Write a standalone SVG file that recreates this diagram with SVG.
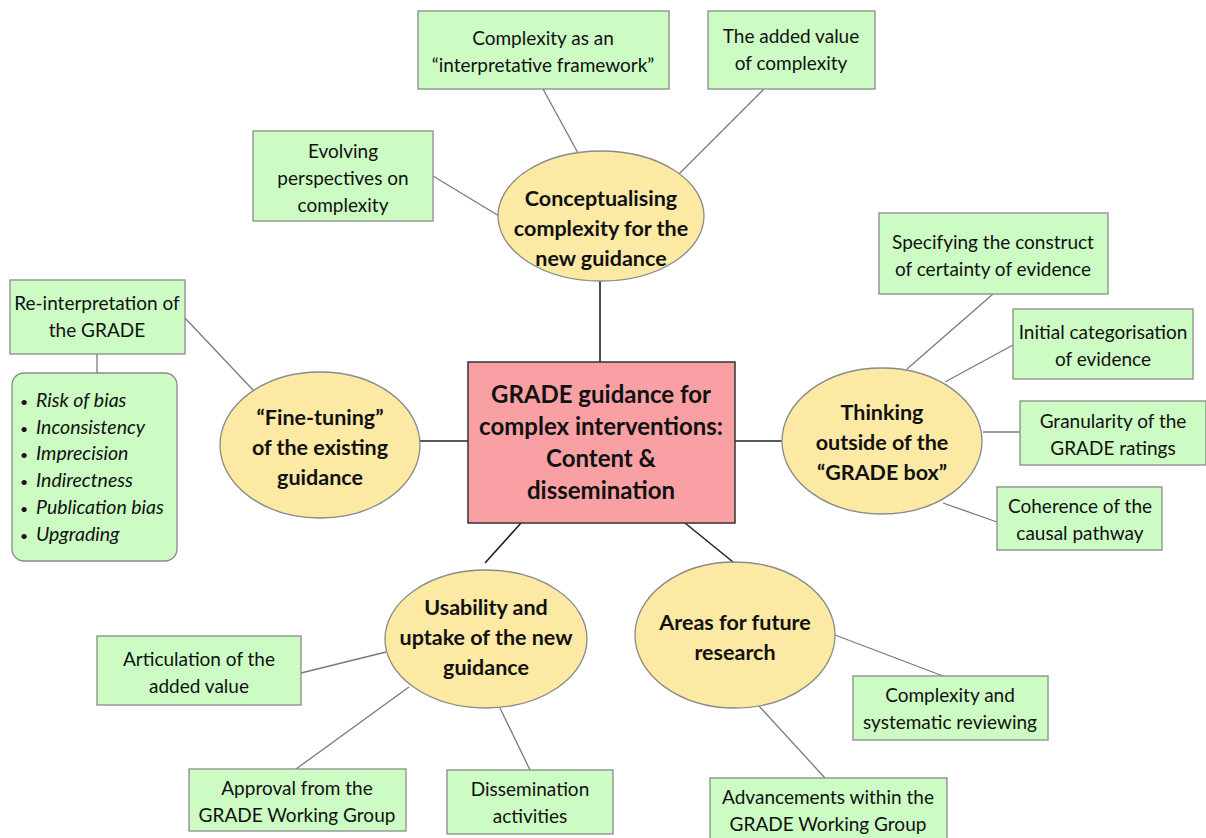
<svg xmlns="http://www.w3.org/2000/svg" width="1206" height="838" viewBox="0 0 1206 838">
  <style>
    .leaf { fill: #ccfcc4; stroke: #8a8a8a; stroke-width: 1.3; }
    .theme { fill: #fce9a4; stroke: #8a8a8a; stroke-width: 1.3; }
    .core { fill: #f9a0a4; stroke: #333; stroke-width: 1.5; }
    .link { stroke: #7a7a7a; stroke-width: 1.3; fill: none; }
    .hub { stroke: #222; stroke-width: 1.6; fill: none; }
    text { font-family: Lato, "Liberation Sans", sans-serif; fill: #111; }
    .t { font-size: 19px; text-anchor: middle; }
    .b { font-size: 21.5px; font-weight: bold; text-anchor: middle; }
    .c { font-size: 24px; font-weight: bold; text-anchor: middle; }
    .i { font-size: 19.5px; font-style: italic; }
    .dot { font-size: 14px; font-style: normal; }
  </style>

  <g id="connectors">
    <line class="hub" x1="600" y1="362" x2="600" y2="281"/>
    <line class="hub" x1="468" y1="441" x2="420" y2="441"/>
    <line class="hub" x1="735" y1="441" x2="782" y2="441"/>
    <line class="hub" x1="521" y1="523" x2="485" y2="563"/>
    <line class="hub" x1="685" y1="523" x2="733" y2="562"/>
    <line class="link" x1="578" y1="153" x2="543" y2="89"/>
    <line class="link" x1="678" y1="175" x2="764" y2="89"/>
    <line class="link" x1="433" y1="176" x2="499" y2="216"/>
    <line class="link" x1="185" y1="318" x2="253" y2="390"/>
    <line class="link" x1="97" y1="354" x2="97" y2="373"/>
    <line class="link" x1="907" y1="369" x2="993" y2="294"/>
    <line class="link" x1="945" y1="382" x2="1013" y2="345"/>
    <line class="link" x1="983" y1="432" x2="1020" y2="432"/>
    <line class="link" x1="943" y1="503" x2="997" y2="522"/>
    <line class="link" x1="386" y1="652" x2="301" y2="673"/>
    <line class="link" x1="409" y1="687" x2="296" y2="769"/>
    <line class="link" x1="500" y1="708" x2="530" y2="770"/>
    <line class="link" x1="835" y1="635" x2="943" y2="676"/>
    <line class="link" x1="759" y1="706" x2="825" y2="778"/>
  </g>

  <g id="core">
    <rect class="core" x="468" y="362" width="267" height="161"/>
    <text class="c" x="601" y="403">GRADE guidance for</text>
    <text class="c" x="601" y="435">complex interventions:</text>
    <text class="c" x="601" y="467">Content &amp;</text>
    <text class="c" x="601" y="499">dissemination</text>
  </g>

  <g id="theme-conceptualising">
    <ellipse class="theme" cx="601" cy="216" rx="103" ry="65"/>
    <text class="b" x="601" y="206">Conceptualising</text>
    <text class="b" x="601" y="236">complexity for the</text>
    <text class="b" x="601" y="266">new guidance</text>
  </g>

  <g id="theme-finetuning">
    <ellipse class="theme" cx="320" cy="445" rx="100" ry="73"/>
    <text class="b" x="320" y="425">“Fine-tuning”</text>
    <text class="b" x="320" y="455">of the existing</text>
    <text class="b" x="320" y="485">guidance</text>
  </g>

  <g id="theme-thinking">
    <ellipse class="theme" cx="882" cy="441" rx="100" ry="73"/>
    <text class="b" x="882" y="420">Thinking</text>
    <text class="b" x="882" y="450">outside of the</text>
    <text class="b" x="882" y="480">“GRADE box”</text>
  </g>

  <g id="theme-usability">
    <ellipse class="theme" cx="486" cy="639" rx="101" ry="69"/>
    <text class="b" x="486" y="615">Usability and</text>
    <text class="b" x="486" y="645">uptake of the new</text>
    <text class="b" x="486" y="675">guidance</text>
  </g>

  <g id="theme-research">
    <ellipse class="theme" cx="735" cy="635" rx="100" ry="73"/>
    <text class="b" x="735" y="630">Areas for future</text>
    <text class="b" x="735" y="660">research</text>
  </g>

  <g id="leaf-framework">
    <rect class="leaf" x="418" y="11" width="251" height="78"/>
    <text class="t" x="543" y="45">Complexity as an</text>
    <text class="t" x="543" y="72">“interpretative framework”</text>
  </g>

  <g id="leaf-added-value">
    <rect class="leaf" x="708" y="11" width="167" height="78"/>
    <text class="t" x="791" y="43">The added value</text>
    <text class="t" x="791" y="70">of complexity</text>
  </g>

  <g id="leaf-evolving">
    <rect class="leaf" x="253" y="131" width="180" height="90"/>
    <text class="t" x="343" y="158">Evolving</text>
    <text class="t" x="343" y="185">perspectives on</text>
    <text class="t" x="343" y="212">complexity</text>
  </g>

  <g id="leaf-reinterpretation">
    <rect class="leaf" x="10" y="280" width="175" height="74"/>
    <text class="t" x="97" y="310">Re-interpretation of</text>
    <text class="t" x="97" y="337">the GRADE</text>
  </g>

  <g id="leaf-domains">
    <rect class="leaf" x="12" y="373" width="165" height="188" rx="12" ry="12"/>
    <text class="i" x="20" y="407"><tspan class="dot">•</tspan><tspan x="36">Risk of bias</tspan></text>
    <text class="i" x="20" y="434"><tspan class="dot">•</tspan><tspan x="36">Inconsistency</tspan></text>
    <text class="i" x="20" y="460"><tspan class="dot">•</tspan><tspan x="36">Imprecision</tspan></text>
    <text class="i" x="20" y="487"><tspan class="dot">•</tspan><tspan x="36">Indirectness</tspan></text>
    <text class="i" x="20" y="514"><tspan class="dot">•</tspan><tspan x="36">Publication bias</tspan></text>
    <text class="i" x="20" y="541"><tspan class="dot">•</tspan><tspan x="36">Upgrading</tspan></text>
  </g>

  <g id="leaf-construct">
    <rect class="leaf" x="879" y="213" width="229" height="81"/>
    <text class="t" x="993" y="249">Specifying the construct</text>
    <text class="t" x="993" y="276">of certainty of evidence</text>
  </g>

  <g id="leaf-categorisation">
    <rect class="leaf" x="1013" y="309" width="180" height="70"/>
    <text class="t" x="1103" y="339">Initial categorisation</text>
    <text class="t" x="1103" y="366">of evidence</text>
  </g>

  <g id="leaf-granularity">
    <rect class="leaf" x="1020" y="401" width="186" height="64"/>
    <text class="t" x="1113" y="428">Granularity of the</text>
    <text class="t" x="1113" y="455">GRADE ratings</text>
  </g>

  <g id="leaf-coherence">
    <rect class="leaf" x="997" y="487" width="165" height="63"/>
    <text class="t" x="1080" y="513">Coherence of the</text>
    <text class="t" x="1080" y="540">causal pathway</text>
  </g>

  <g id="leaf-articulation">
    <rect class="leaf" x="97" y="636" width="204" height="69"/>
    <text class="t" x="199" y="666">Articulation of the</text>
    <text class="t" x="199" y="693">added value</text>
  </g>

  <g id="leaf-approval">
    <rect class="leaf" x="189" y="769" width="217" height="62"/>
    <text class="t" x="297" y="795">Approval from the</text>
    <text class="t" x="297" y="822">GRADE Working Group</text>
  </g>

  <g id="leaf-dissemination">
    <rect class="leaf" x="447" y="770" width="166" height="64"/>
    <text class="t" x="530" y="796">Dissemination</text>
    <text class="t" x="530" y="823">activities</text>
  </g>

  <g id="leaf-reviewing">
    <rect class="leaf" x="853" y="676" width="195" height="64"/>
    <text class="t" x="950" y="702">Complexity and</text>
    <text class="t" x="950" y="729">systematic reviewing</text>
  </g>

  <g id="leaf-advancements">
    <rect class="leaf" x="710" y="778" width="237" height="64"/>
    <text class="t" x="828" y="804">Advancements within the</text>
    <text class="t" x="828" y="831">GRADE Working Group</text>
  </g>
</svg>
